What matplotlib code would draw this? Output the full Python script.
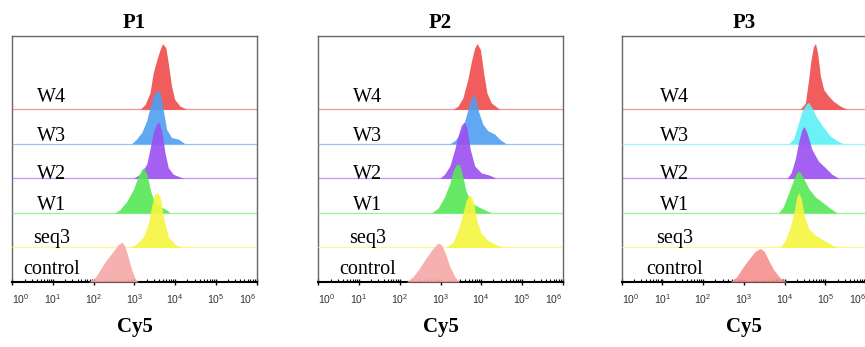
import matplotlib
matplotlib.use("Agg")
import matplotlib.pyplot as plt
import numpy as np

# Panel titles and row names (bottom row first)
panels = ["P1", "P2", "P3"]
samples = ["control", "seq3", "W1", "W2", "W3", "W4"]

# Histogram outlines: (log10 Cy5, height in row units)
p1_control = [(1.87, 0), (2.05, 0.15), (2.15, 0.34), (2.30, 0.62), (2.48, 0.89), (2.60, 1.08), (2.69, 1.15),
              (2.77, 1.03), (2.85, 0.70), (2.93, 0.36), (3.01, 0.12), (3.09, 0)]
p1_seq3 = [(2.89, 0), (3.05, 0.10), (3.22, 0.31), (3.34, 0.69), (3.42, 1.18), (3.49, 1.52), (3.55, 1.61),
           (3.63, 1.47), (3.71, 0.89), (3.83, 0.31), (3.99, 0.10), (4.16, 0)]
p1_w1 = [(2.52, 0), (2.64, 0.09), (2.81, 0.33), (2.97, 0.67), (3.09, 1.05), (3.18, 1.26), (3.23, 1.31),
         (3.31, 1.10), (3.40, 0.62), (3.50, 0.28), (3.67, 0.16), (3.79, 0.09), (3.87, 0)]
p1_w2 = [(2.97, 0), (3.14, 0.12), (3.30, 0.41), (3.38, 0.84), (3.46, 1.32), (3.55, 1.59), (3.60, 1.63),
         (3.67, 1.37), (3.75, 0.74), (3.83, 0.31), (3.95, 0.12), (4.20, 0)]
p1_w3 = [(2.93, 0), (3.05, 0.135), (3.18, 0.33), (3.30, 0.67), (3.38, 1.05), (3.46, 1.39), (3.55, 1.54),
         (3.63, 1.49), (3.71, 0.96), (3.79, 0.42), (3.91, 0.18), (4.08, 0.135), (4.24, 0)]
p1_w4 = [(3.14, 0), (3.26, 0.135), (3.38, 0.47), (3.46, 1.05), (3.55, 1.44), (3.63, 1.73), (3.69, 1.90),
         (3.77, 1.78), (3.83, 1.34), (3.91, 0.67), (3.99, 0.28), (4.12, 0.09), (4.28, 0)]

p2_control = [(2.16, 0), (2.33, 0.16), (2.49, 0.41), (2.65, 0.70), (2.82, 0.98), (2.94, 1.13), (3.02, 1.08),
              (3.10, 0.89), (3.23, 0.45), (3.35, 0.16), (3.47, 0)]
p2_seq3 = [(3.14, 0), (3.31, 0.16), (3.43, 0.50), (3.55, 0.98), (3.63, 1.37), (3.72, 1.54), (3.80, 1.37),
           (3.89, 0.79), (4.00, 0.41), (4.16, 0.21), (4.33, 0.10), (4.53, 0)]
p2_w1 = [(2.78, 0), (2.94, 0.135), (3.10, 0.47), (3.23, 0.86), (3.32, 1.25), (3.40, 1.41), (3.47, 1.39),
         (3.55, 1.05), (3.63, 0.62), (3.76, 0.28), (3.96, 0.16), (4.25, 0)]
p2_w2 = [(2.98, 0), (3.10, 0.12), (3.23, 0.36), (3.35, 0.84), (3.43, 1.23), (3.51, 1.53), (3.58, 1.63),
         (3.65, 1.47), (3.73, 0.84), (3.84, 0.36), (4.00, 0.16), (4.21, 0.09), (4.37, 0)]
p2_w3 = [(3.23, 0), (3.35, 0.09), (3.51, 0.33), (3.63, 0.81), (3.72, 1.20), (3.80, 1.41), (3.86, 1.34),
         (3.94, 0.91), (4.04, 0.57), (4.16, 0.38), (4.33, 0.28), (4.45, 0.135), (4.61, 0)]
p2_w4 = [(3.31, 0), (3.43, 0.09), (3.55, 0.33), (3.67, 0.86), (3.76, 1.39), (3.84, 1.78), (3.90, 1.90),
         (3.98, 1.73), (4.06, 1.05), (4.14, 0.47), (4.25, 0.18), (4.45, 0)]

p3_control = [(2.66, 0), (2.83, 0.16), (2.99, 0.45), (3.15, 0.70), (3.28, 0.89), (3.40, 0.97), (3.50, 0.89),
              (3.60, 0.65), (3.73, 0.36), (3.89, 0.12), (4.06, 0)]
p3_seq3 = [(3.89, 0), (4.02, 0.21), (4.14, 0.60), (4.24, 1.08), (4.30, 1.47), (4.35, 1.58), (4.41, 1.42),
           (4.48, 0.94), (4.59, 0.55), (4.75, 0.36), (4.96, 0.21), (5.12, 0.10), (5.29, 0)]
p3_w1 = [(3.85, 0), (3.97, 0.18), (4.10, 0.57), (4.22, 0.96), (4.30, 1.17), (4.37, 1.20), (4.47, 1.00),
         (4.59, 0.71), (4.75, 0.47), (4.96, 0.28), (5.12, 0.135), (5.29, 0)]
p3_w2 = [(4.06, 0), (4.16, 0.16), (4.26, 0.55), (4.36, 1.13), (4.43, 1.42), (4.48, 1.50), (4.55, 1.32),
         (4.67, 0.84), (4.83, 0.50), (5.00, 0.31), (5.16, 0.12), (5.33, 0)]
p3_w3 = [(4.10, 0), (4.22, 0.135), (4.32, 0.52), (4.43, 0.96), (4.53, 1.15), (4.59, 1.20), (4.67, 1.05),
         (4.79, 0.76), (4.96, 0.47), (5.12, 0.23), (5.29, 0.09), (5.45, 0)]
p3_w4 = [(4.38, 0), (4.51, 0.18), (4.59, 0.86), (4.65, 1.44), (4.71, 1.82), (4.76, 1.90), (4.81, 1.63),
         (4.88, 0.96), (4.96, 0.57), (5.08, 0.38), (5.20, 0.23), (5.37, 0.09), (5.53, 0)]

curves = {
    "P1": [p1_control, p1_seq3, p1_w1, p1_w2, p1_w3, p1_w4],
    "P2": [p2_control, p2_seq3, p2_w1, p2_w2, p2_w3, p2_w4],
    "P3": [p3_control, p3_seq3, p3_w1, p3_w2, p3_w3, p3_w4],
}

decades = [0, 1, 2, 3, 4, 5, 6]

# colours per row (bottom to top); P3 uses cyan for W3
colors = ["#f7a8a8", "#f6f640", "#55e855", "#9a4ff0", "#4f9ff0", "#f04b4b"]
colors_p3 = ["#f58f8f", "#f6f640", "#55e855", "#9a4ff0", "#5cf0f5", "#f04b4b"]

plt.rcParams["mathtext.fontset"] = "custom"
plt.rcParams["mathtext.rm"] = "Liberation Sans"
plt.rcParams["mathtext.it"] = "Liberation Sans"

fig = plt.figure(figsize=(8.65, 3.47), dpi=100)

lefts = [0.0142, 0.368, 0.7187]
label_x = [0.16, 0.20, 0.215]
label_dy = [0.24, 0.12, 0.09, -0.03, 0.07, 0.21]   # text baseline above each row line
width, bottom, height = 0.2825, 0.1873, 0.709
ytop = 7.12

for i, name in enumerate(panels):
    ax = fig.add_axes([lefts[i], bottom, width, height])
    cols = colors_p3 if name == "P3" else colors
    n = len(samples)
    # draw top rows first so lower rows sit in front
    for j in reversed(range(n)):
        pts = np.array(curves[name][j])
        xs = 10 ** pts[:, 0]
        z = 10 + (n - j) * 2
        ax.fill_between(xs, j, j + pts[:, 1], color=cols[j], alpha=0.9,
                        linewidth=0, zorder=z)
        if j > 0:
            ax.axhline(j, color=cols[j], lw=0.9, alpha=0.6, zorder=z - 1)
        ax.text(label_x[i], (j + label_dy[j]) / ytop, samples[j], transform=ax.transAxes,
                ha="center", va="baseline", fontsize=14.5,
                family="Liberation Serif", zorder=30)

    ax.set_xscale("log")
    ax.set_xlim(1, 1e6)
    ax.set_ylim(0, ytop)
    ax.set_yticks([])

    ticks = [10.0 ** d for d in decades]
    ax.set_xticks(ticks)
    ax.set_xticklabels([r"$10^{%d}$" % d for d in decades])
    labs = ax.get_xticklabels()
    labs[0].set_ha("left")
    labs[-1].set_ha("right")
    ax.xaxis.set_minor_locator(matplotlib.ticker.LogLocator(base=10, subs=np.arange(2, 10), numticks=20))
    ax.xaxis.set_minor_formatter(matplotlib.ticker.NullFormatter())
    ax.tick_params(axis="x", which="major", direction="inout", length=5, width=1,
                   labelsize=7.5, labelcolor="#333333", pad=5)
    ax.tick_params(axis="x", which="minor", direction="in", length=2.5, width=0.8)

    for s in ["top", "left", "right"]:
        ax.spines[s].set_color("#666666")
        ax.spines[s].set_linewidth(1.0)
    ax.spines["bottom"].set_color("black")
    ax.spines["bottom"].set_linewidth(1.5)

    ax.set_title(name, fontsize=15, fontweight="bold", family="Liberation Serif", pad=6)
    ax.set_xlabel("Cy5", fontsize=15, fontweight="bold", family="Liberation Serif", labelpad=8)

fig.savefig("out.png", dpi=100)
